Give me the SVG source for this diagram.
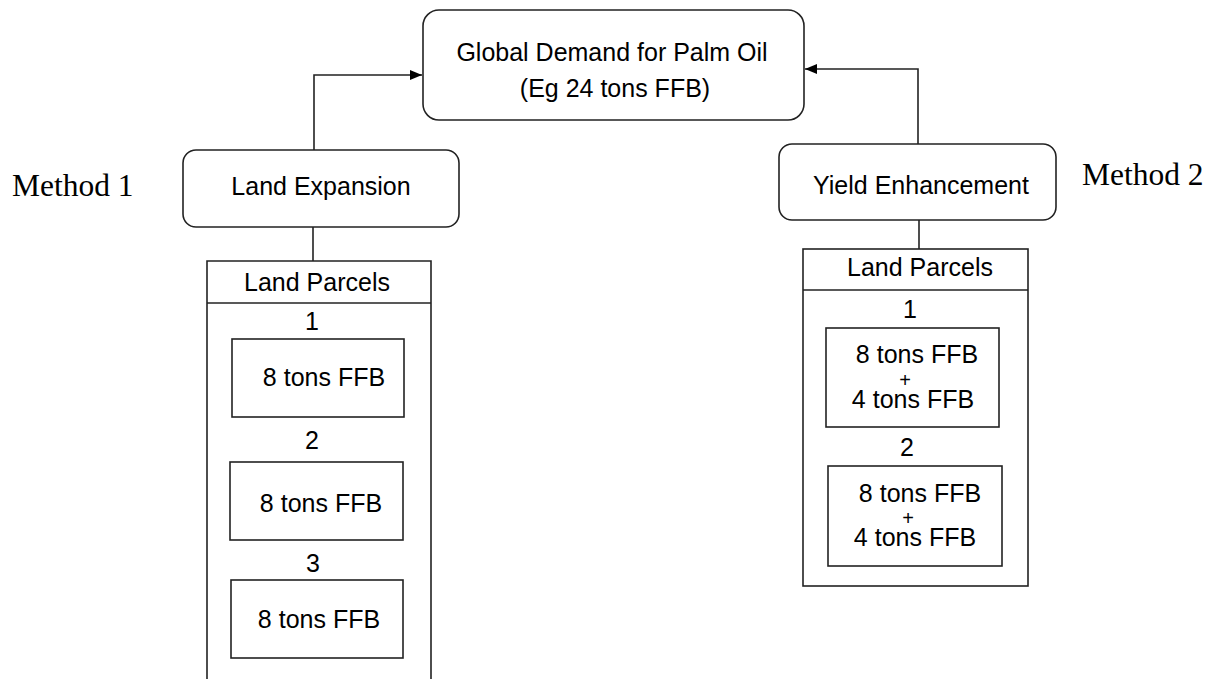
<svg xmlns="http://www.w3.org/2000/svg" width="1219" height="679" viewBox="0 0 1219 679">
<style>
.box{fill:#fff;stroke:#222;stroke-width:1.6}
.t{font-family:"Liberation Sans",Arial,sans-serif;font-size:25px;fill:#000;text-anchor:middle}
.p{font-family:"Liberation Sans",Arial,sans-serif;font-size:20px;fill:#000;text-anchor:middle}
.m{font-family:"Liberation Serif","Times New Roman",serif;font-size:31.5px;fill:#000}
.c{fill:none;stroke:#222;stroke-width:1.6}
</style>
<defs>
<marker id="ah" viewBox="0 0 12 10" refX="12" refY="5" markerWidth="12" markerHeight="10" markerUnits="userSpaceOnUse" orient="auto">
<path d="M0,0 L12,5 L0,10 z" fill="#000"/>
</marker>
</defs>
<rect width="1219" height="679" fill="#fff"/>
<g id="connectors">
<path class="c" d="M314,150 V75 H422" marker-end="url(#ah)"/>
<path class="c" d="M918,144 V69 H805" marker-end="url(#ah)"/>
<path class="c" d="M313,227 V261"/>
<path class="c" d="M919,220 V249"/>
</g>
<g id="demand">
<rect class="box" x="423" y="10" width="381" height="110" rx="16"/>
<text class="t" x="612" y="61">Global Demand for Palm Oil</text>
<text class="t" x="615" y="97">(Eg 24 tons FFB)</text>
</g>
<g id="land-expansion">
<rect class="box" x="183" y="150" width="276" height="77" rx="13"/>
<text class="t" x="321" y="195">Land Expansion</text>
</g>
<g id="yield-enhancement">
<rect class="box" x="779" y="144" width="277" height="76" rx="13"/>
<text class="t" x="921" y="194">Yield Enhancement</text>
</g>
<g id="method1"><text class="m" x="12" y="196">Method 1</text></g>
<g id="method2"><text class="m" x="1082" y="185">Method 2</text></g>
<g id="parcels-left">
<path class="box" d="M207,685 V261 H431 V685"/>
<path class="c" d="M207,303 H431"/>
<text class="t" x="317" y="291">Land Parcels</text>
<text class="t" x="312" y="330">1</text>
<rect class="box" x="232" y="339" width="172" height="78"/>
<text class="t" x="324" y="386">8 tons FFB</text>
<text class="t" x="312" y="449">2</text>
<rect class="box" x="230" y="462" width="173" height="78"/>
<text class="t" x="321" y="512">8 tons FFB</text>
<text class="t" x="313" y="572">3</text>
<rect class="box" x="231" y="580" width="172" height="78"/>
<text class="t" x="319" y="628">8 tons FFB</text>
</g>
<g id="parcels-right">
<rect class="box" x="803" y="249" width="225" height="337"/>
<path class="c" d="M803,290 H1028"/>
<text class="t" x="920" y="276">Land Parcels</text>
<text class="t" x="910" y="318">1</text>
<rect class="box" x="826" y="328" width="173" height="99"/>
<text class="t" x="917" y="363">8 tons FFB</text>
<text class="p" x="905" y="387">+</text>
<text class="t" x="913" y="408">4 tons FFB</text>
<text class="t" x="907" y="456">2</text>
<rect class="box" x="828" y="466" width="174" height="100"/>
<text class="t" x="920" y="502">8 tons FFB</text>
<text class="p" x="908" y="525">+</text>
<text class="t" x="915" y="546">4 tons FFB</text>
</g>
</svg>
